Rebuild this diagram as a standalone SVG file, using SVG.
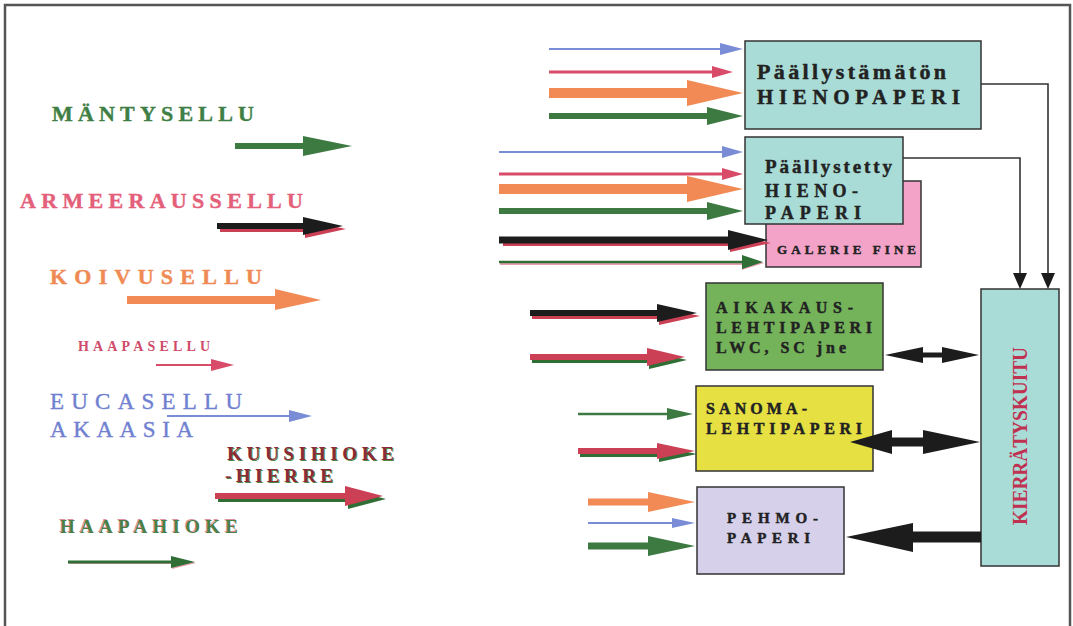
<svg xmlns="http://www.w3.org/2000/svg" width="1073" height="626" viewBox="0 0 1073 626" font-family="'Liberation Serif', 'DejaVu Serif', 'Times New Roman', serif">
<style>
text{font-family:'Liberation Serif','DejaVu Serif','Times New Roman',serif;font-weight:700}
.box{stroke:#333;stroke-width:1.5}
.bt{fill:#222;stroke:#222;stroke-width:0.45}
.lb{stroke-width:0.4}
.g{fill:#3d7a42}.o{fill:#f28a55}.p{fill:#d84c6a}.b{fill:#7b8cd6}.k{fill:#1c1c1c}.r{fill:#cc4055}.gs{fill:#2f6f35}
.conn{fill:none;stroke:#333;stroke-width:1.6}
.n{font-weight:400}
</style>
<rect width="1073" height="626" fill="#ffffff"/>
<path d="M5,626 V5 H1070 V626" fill="none" stroke="#555" stroke-width="2.5"/>

<g id="labels">
<text class="lb" x="52" y="121" font-size="22" fill="#3f7f45" stroke="#3f7f45" textLength="202" lengthAdjust="spacing">MÄNTYSELLU</text>
<text class="lb" x="20" y="208" font-size="22" fill="#e4607a" stroke="#e4607a" textLength="283" lengthAdjust="spacing">ARMEERAUSSELLU</text>
<text class="lb" x="50" y="284" font-size="22" fill="#f08a55" stroke="#f08a55" textLength="212" lengthAdjust="spacing">KOIVUSELLU</text>
<text x="78" y="351" font-size="14" fill="#d04a6a" textLength="132" lengthAdjust="spacing">HAAPASELLU</text>
<text class="n" x="50" y="409" font-size="23" fill="#7080d0" stroke="#7080d0" stroke-width="0.4" textLength="192" lengthAdjust="spacing">EUCASELLU</text>
<text class="n" x="50" y="437" font-size="23" fill="#7080d0" stroke="#7080d0" stroke-width="0.4" textLength="143" lengthAdjust="spacing">AKAASIA</text>
<text x="228" y="461" font-size="19" fill="#4a8a40" textLength="167" lengthAdjust="spacing">KUUSIHIOKE</text>
<text x="227" y="460" font-size="19" fill="#8a2a3a" textLength="167" lengthAdjust="spacing">KUUSIHIOKE</text>
<text x="226" y="483" font-size="19" fill="#4a8a40" textLength="108" lengthAdjust="spacing">-HIERRE</text>
<text x="225" y="482" font-size="19" fill="#8a2a3a" textLength="108" lengthAdjust="spacing">-HIERRE</text>
<text x="59" y="532" font-size="19" fill="#e090a0" textLength="178" lengthAdjust="spacing">HAAPAHIOKE</text>
<text x="60" y="533" font-size="19" fill="#4a7f45" textLength="178" lengthAdjust="spacing">HAAPAHIOKE</text>
</g>

<g id="node-paallystamaton">
<rect class="box" x="745" y="41" width="236" height="88" fill="#a9dcd6"/>
<text class="bt" x="757" y="79" font-size="22" textLength="189" lengthAdjust="spacing">Päällystämätön</text>
<text class="bt" x="757" y="104" font-size="21" textLength="203" lengthAdjust="spacing">HIENOPAPERI</text>
</g>

<g id="node-galerie">
<rect class="box" x="766" y="181" width="155" height="86" fill="#f3a3c8" stroke="#3d6a40"/>
<text class="bt" x="777" y="254" font-size="13" textLength="139" lengthAdjust="spacing">GALERIE FINE</text>
</g>

<g id="node-paallystetty">
<rect class="box" x="745" y="137" width="158" height="87" fill="#a9dcd6"/>
<text class="bt" x="765" y="173" font-size="19" textLength="127" lengthAdjust="spacing">Päällystetty</text>
<text class="bt" x="765" y="197" font-size="18" textLength="93" lengthAdjust="spacing">HIENO-</text>
<text class="bt" x="765" y="219" font-size="18" textLength="96" lengthAdjust="spacing">PAPERI</text>
</g>

<g id="node-aikakaus">
<rect class="box" x="706" y="283" width="177" height="87" fill="#74b35a"/>
<text class="bt" x="716" y="313" font-size="16" textLength="137" lengthAdjust="spacing">AIKAKAUS-</text>
<text class="bt" x="716" y="333" font-size="16" textLength="156" lengthAdjust="spacing">LEHTIPAPERI</text>
<text class="bt" x="716" y="353" font-size="16" textLength="130" lengthAdjust="spacing">LWC, SC jne</text>
</g>

<g id="node-sanoma">
<rect class="box" x="696" y="386" width="177" height="85" fill="#e6e042"/>
<text class="bt" x="706" y="414" font-size="16" textLength="101" lengthAdjust="spacing">SANOMA-</text>
<text class="bt" x="706" y="434" font-size="16" textLength="156" lengthAdjust="spacing">LEHTIPAPERI</text>
</g>

<g id="node-pehmo">
<rect class="box" x="697" y="487" width="147" height="87" fill="#d6d0ea"/>
<text class="bt" x="727" y="523" font-size="15" textLength="91" lengthAdjust="spacing">PEHMO-</text>
<text class="bt" x="727" y="543" font-size="15" textLength="83" lengthAdjust="spacing">PAPERI</text>
</g>

<g id="node-kierratyskuitu">
<rect class="box" x="981" y="289" width="78" height="277" fill="#a9dcd6"/>
<text transform="translate(1027,525) rotate(-90)" x="0" y="0" font-size="21" fill="#c03050" textLength="178" lengthAdjust="spacingAndGlyphs">KIERRÄTYSKUITU</text>
</g>

<g id="connectors">
<polygon class="g" points="235,143 303,143 303,136 352,146 303,156 303,149 235,149"/>
<polygon class="r" points="220,226 305,226 305,220 346,229 305,238 305,232 220,232"/>
<polygon class="k" points="217,223 303,223 303,217 343,226 303,235 303,229 217,229"/>
<polygon class="o" points="127,296 275,296 275,289 321,300 275,310 275,304 127,304"/>
<polygon class="p" points="156,364 211,364 211,359 234,365 211,371 211,366 156,366"/>
<polygon class="b" points="167,415 289,415 289,410 312,416 289,422 289,417 167,417"/>
<polygon class="gs" points="218,496 348,496 348,489 386,499 348,509 348,502 218,502"/>
<polygon class="r" points="215,493 345,493 345,486 383,496 345,506 345,499 215,499"/>
<polygon points="69,562 172,562 172,557 196,563 172,569 172,564 69,564" fill="#e8a0b0"/>
<polygon class="gs" points="68,560.5 171,560.5 171,556 195,562 171,568 171,563.5 68,563.5"/>

<polygon class="b" points="549,48 720,48 720,43 743,49 720,55 720,50 549,50"/>
<polygon class="p" points="549,70.5 712,70.5 712,66 733,72 712,78 712,73.5 549,73.5"/>
<polygon class="o" points="549,88 687,88 687,80 743,93 687,106 687,98 549,98"/>
<polygon class="g" points="549,113 707,113 707,107 743,116 707,125 707,119 549,119"/>
<polygon class="b" points="499,151 722,151 722,146 743,152 722,158 722,153 499,153"/>
<polygon class="p" points="499,172.5 722,172.5 722,168 743,174 722,180 722,175.5 499,175.5"/>
<polygon class="o" points="499,184 687,184 687,176 743,189 687,202 687,194 499,194"/>
<polygon class="g" points="499,208 707,208 707,202 743,211 707,220 707,214 499,214"/>
<polygon class="r" points="503,240 730,240 730,234 771,243 730,252 730,246 503,246"/>
<polygon class="k" points="499,236.5 728,236.5 728,230 768,240 728,250 728,243.5 499,243.5"/>
<polygon points="500,261 742,261 742,256 764,263 742,270 742,265 500,265" fill="#e8a0b0"/>
<polygon class="gs" points="499,260.8 742,260.8 742,255 763,262 742,269 742,263.2 499,263.2"/>
<polygon class="r" points="532,313 659,313 659,307 700,316 659,325 659,319 532,319"/>
<polygon class="k" points="530,310 657,310 657,304 697,313 657,322 657,316 530,316"/>
<polygon class="gs" points="532,357 649,357 649,351 687,360 649,369 649,363 532,363"/>
<polygon class="r" points="530,354 647,354 647,348 685,357 647,366 647,360 530,360"/>
<polygon class="g" points="578,412.8 667,412.8 667,408 693,414 667,420 667,415.2 578,415.2"/>
<polygon class="gs" points="580,451 659,451 659,446 697,454 659,462 659,457 580,457"/>
<polygon class="r" points="578,448 657,448 657,443 695,451 657,459 657,454 578,454"/>
<polygon class="o" points="588,498.5 648,498.5 648,492 695,502 648,512 648,505.5 588,505.5"/>
<polygon class="b" points="588,522 672,522 672,518 695,523 672,528 672,524 588,524"/>
<polygon class="g" points="588,542.5 648,542.5 648,536 695,546 648,556 648,549.5 588,549.5"/>

<path class="conn" d="M981,84 H1048 V275"/>
<polygon class="k" points="1041,273 1055,273 1048,289"/>
<path class="conn" d="M903,158 H1020 V275"/>
<polygon class="k" points="1013,273 1027,273 1020,289"/>
<polygon class="k" points="885,355 923,347 923,352.5 942,352.5 942,347 979,355 942,363 942,357.5 923,357.5 923,363"/>
<polygon class="k" points="850,442 892,430 892,437.5 923,437.5 923,430 980,442 923,454 923,446.5 892,446.5 892,454"/>
<polygon class="k" points="846,537 913,523 913,531.5 981,531.5 981,542.5 913,542.5 913,552"/>
</g>
</svg>
